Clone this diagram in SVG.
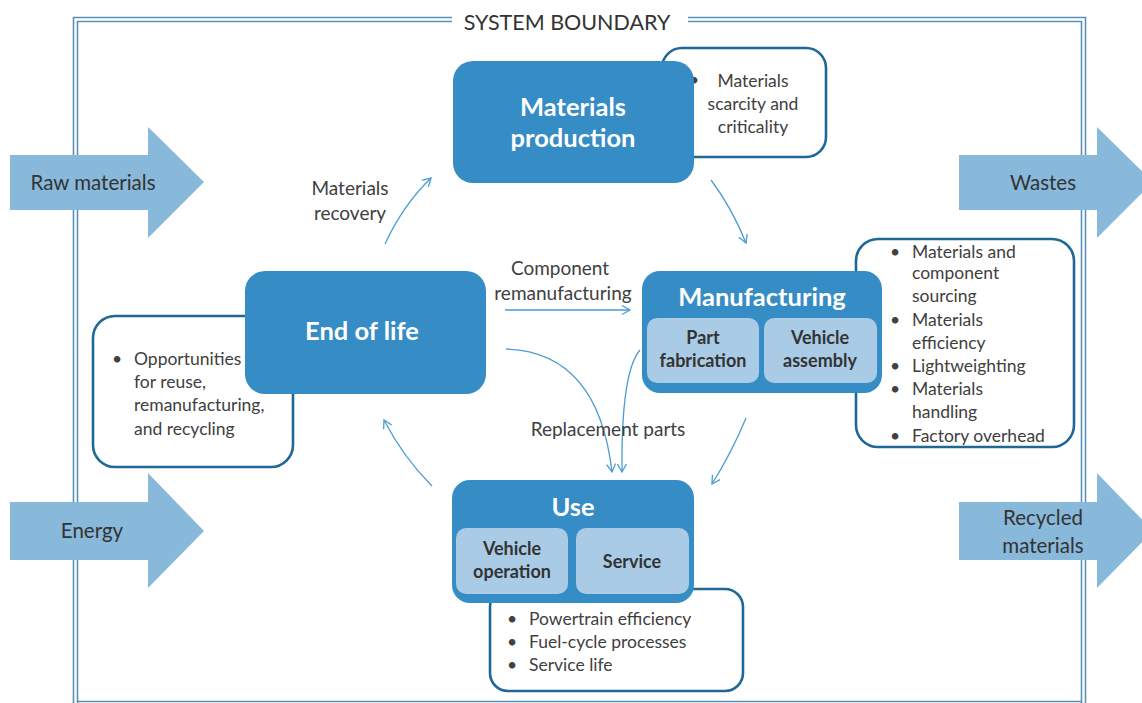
<svg xmlns="http://www.w3.org/2000/svg" width="1142" height="703" viewBox="0 0 1142 703">
<defs>
<style>
.bnd{fill:none;stroke:#5a8fb9;stroke-width:1.6}
.flow{fill:#88b8da}
.flowt{font-family:Lato,"Liberation Sans",sans-serif;font-size:20.5px;fill:#333;text-anchor:middle}
.box{fill:#368cc5}
.sub{fill:#a9cbe6}
.note{fill:#fff;stroke:#1f6896;stroke-width:2.6}
.title{font-family:Lato,"Liberation Sans",sans-serif;font-size:25.5px;font-weight:bold;fill:#fff;text-anchor:middle}
.subt{font-family:Lato,"Liberation Sans",sans-serif;font-size:18px;font-weight:bold;fill:#333;text-anchor:middle}
.nt{font-family:Lato,"Liberation Sans",sans-serif;font-size:17.5px;fill:#404040}
.lbl{font-family:Lato,"Liberation Sans",sans-serif;font-size:19px;fill:#404040;text-anchor:middle}
.con{fill:none;stroke:#4b9cd3;stroke-width:1.3}
</style>
<marker id="ah" markerWidth="12" markerHeight="12" refX="9" refY="5" orient="auto" markerUnits="userSpaceOnUse">
<path d="M1,0.5 L9,5 L1,9.5" fill="none" stroke="#4b9cd3" stroke-width="1.3"/>
</marker>
</defs>
<rect width="1142" height="703" fill="#fff"/>

<g id="system-boundary">
<path class="bnd" d="M452,17.5 H73.5 V705"/>
<path class="bnd" d="M452,21.5 H77.5 V705"/>
<path class="bnd" d="M688,17.5 H1085.5 V705"/>
<path class="bnd" d="M688,21.5 H1081.5 V705"/>
<path class="bnd" d="M77.5,701.5 H1081.5"/>
<text x="567" y="30" font-family="Lato,'Liberation Sans',sans-serif" font-size="21.5" fill="#333" text-anchor="middle">SYSTEM BOUNDARY</text>
</g>

<g id="raw-materials">
<polygon class="flow" points="10,155 148,155 148,127 204,182 148,238 148,210 10,210"/>
<text class="flowt" x="93" y="189.5">Raw materials</text>
</g>
<g id="energy">
<polygon class="flow" points="10,502 148,502 148,473 204,531 148,588 148,560 10,560"/>
<text class="flowt" x="92" y="538">Energy</text>
</g>
<g id="wastes">
<polygon class="flow" points="959,155 1097,155 1097,127 1153,182 1097,238 1097,210 959,210"/>
<text class="flowt" x="1043" y="189.5">Wastes</text>
</g>
<g id="recycled-materials">
<polygon class="flow" points="959,502 1097,502 1097,473 1153,531 1097,588 1097,560 959,560"/>
<text class="flowt" x="1043" y="525">Recycled</text>
<text class="flowt" x="1043" y="553">materials</text>
</g>

<g id="materials-production-notes">
<rect class="note" x="662" y="48" width="164" height="109" rx="20"/>
<text class="nt" x="689" y="86">•</text>
<text class="nt" x="753" y="87" text-anchor="middle">Materials</text>
<text class="nt" x="753" y="110" text-anchor="middle">scarcity and</text>
<text class="nt" x="753" y="133" text-anchor="middle">criticality</text>
</g>
<g id="manufacturing-notes">
<rect class="note" x="856" y="239" width="218" height="208" rx="22"/>
<g class="nt">
<text x="890" y="258">•</text><text x="912" y="258">Materials and</text>
<text x="912" y="279">component</text>
<text x="912" y="302">sourcing</text>
<text x="890" y="326">•</text><text x="912" y="326">Materials</text>
<text x="912" y="349">efficiency</text>
<text x="890" y="372">•</text><text x="912" y="372">Lightweighting</text>
<text x="890" y="395">•</text><text x="912" y="395">Materials</text>
<text x="912" y="418">handling</text>
<text x="890" y="442">•</text><text x="912" y="442">Factory overhead</text>
</g>
</g>
<g id="end-of-life-notes">
<rect class="note" x="93" y="316" width="200" height="151" rx="22"/>
<g class="nt">
<text x="112" y="365">•</text><text x="134" y="365">Opportunities</text>
<text x="134" y="388">for reuse,</text>
<text x="134" y="411">remanufacturing,</text>
<text x="134" y="435">and recycling</text>
</g>
</g>
<g id="use-notes">
<rect class="note" x="490" y="589" width="253" height="102" rx="18"/>
<g class="nt">
<text x="507" y="625">•</text><text x="529" y="625">Powertrain efficiency</text>
<text x="507" y="648">•</text><text x="529" y="648">Fuel-cycle processes</text>
<text x="507" y="671">•</text><text x="529" y="671">Service life</text>
</g>
</g>

<g id="materials-production">
<rect class="box" x="453" y="61" width="241" height="122" rx="20"/>
<text class="title" x="573" y="116">Materials</text>
<text class="title" x="573" y="147">production</text>
</g>
<g id="manufacturing">
<rect class="box" x="642" y="271" width="240" height="122" rx="18"/>
<text class="title" x="762" y="306">Manufacturing</text>
<rect class="sub" x="647" y="318" width="112" height="65" rx="10"/>
<text class="subt" x="703" y="344">Part</text>
<text class="subt" x="703" y="367">fabrication</text>
<rect class="sub" x="764" y="318" width="113" height="65" rx="10"/>
<text class="subt" x="820" y="344">Vehicle</text>
<text class="subt" x="820" y="367">assembly</text>
</g>
<g id="end-of-life">
<rect class="box" x="245" y="271" width="241" height="123" rx="20"/>
<text class="title" x="362" y="340">End of life</text>
</g>
<g id="use">
<rect class="box" x="452" y="480" width="242" height="123" rx="18"/>
<text class="title" x="573" y="516">Use</text>
<rect class="sub" x="456" y="528" width="112" height="66" rx="10"/>
<text class="subt" x="512" y="555">Vehicle</text>
<text class="subt" x="512" y="578">operation</text>
<rect class="sub" x="576" y="528" width="113" height="66" rx="10"/>
<text class="subt" x="632" y="568">Service</text>
</g>

<g id="connectors">
<path class="con" d="M385,244 Q403,205 431,178" marker-end="url(#ah)"/>
<path class="con" d="M711,180 Q732,208 746,243" marker-end="url(#ah)"/>
<path class="con" d="M505,310 H630" marker-end="url(#ah)"/>
<path class="con" d="M506,349 Q598,352 612,472" marker-end="url(#ah)"/>
<path class="con" d="M640,350 Q621,372 622,472" marker-end="url(#ah)"/>
<path class="con" d="M746,418 Q732,452 712,484" marker-end="url(#ah)"/>
<path class="con" d="M432,486 Q403,457 384,420" marker-end="url(#ah)"/>
<text class="lbl" x="350" y="195">Materials</text>
<text class="lbl" x="350" y="220">recovery</text>
<text class="lbl" x="560" y="275">Component</text>
<text class="lbl" x="563" y="300">remanufacturing</text>
<text class="lbl" x="608" y="436">Replacement  parts</text>
</g>
</svg>
